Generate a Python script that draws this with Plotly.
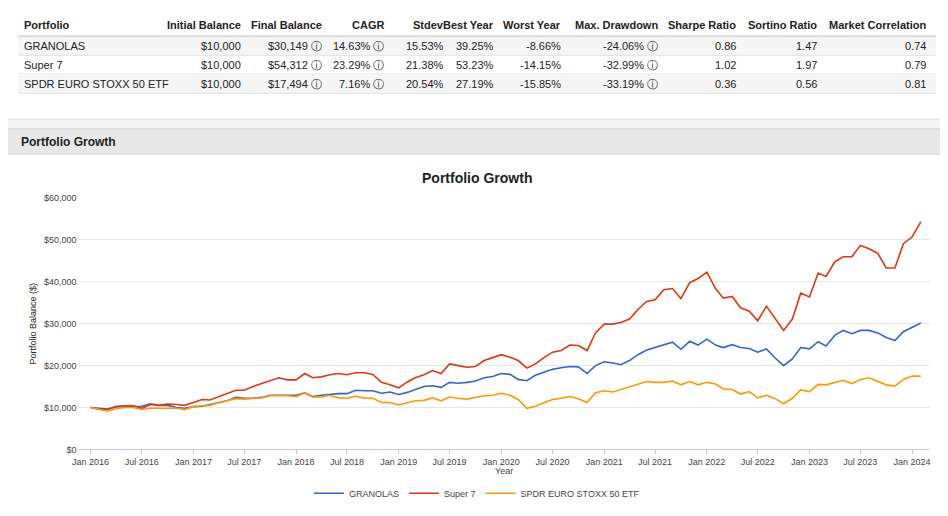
import pandas as pd
import plotly.graph_objects as go

months = pd.date_range('2016-01-01', '2024-02-01', freq='MS')

granolas = [10.0, 9.8, 9.6, 10.1, 10.2, 10.3, 10.3, 10.9, 10.5, 10.5, 10.0, 9.8,
            10.2, 10.3, 10.7, 11.2, 11.6, 12.4, 12.2, 12.2, 12.4, 12.9, 12.9, 12.9,
            12.9, 13.5, 12.6, 12.9, 13.1, 13.3, 13.3, 14.1, 14.0, 14.0, 13.4, 13.7,
            13.1, 13.6, 14.3, 15.0, 15.2, 14.8, 16.0, 15.8, 16.0, 16.3, 17.1, 17.4,
            18.1, 17.9, 16.7, 16.4, 17.7, 18.5, 19.1, 19.5, 19.8, 19.7, 18.1, 20.0,
            20.9, 20.6, 20.2, 21.2, 22.6, 23.7, 24.3, 24.9, 25.6, 23.9, 25.8, 24.9,
            26.3, 24.9, 24.3, 25.0, 24.3, 24.1, 23.2, 24.0, 21.8, 20.0, 21.6, 24.3,
            24.0, 25.7, 24.7, 27.2, 28.4, 27.6, 28.4, 28.4, 27.8, 26.7, 26.0, 28.1,
            29.1, 30.149]
super7 = [10.0, 9.6, 9.5, 10.3, 10.4, 10.4, 9.8, 10.7, 10.5, 10.8, 10.7, 10.5,
          11.2, 11.9, 11.8, 12.6, 13.4, 14.1, 14.1, 15.0, 15.7, 16.4, 17.1, 16.6,
          16.6, 18.1, 17.1, 17.3, 17.8, 18.1, 17.8, 18.3, 18.3, 17.9, 16.0, 15.4,
          14.7, 16.1, 17.1, 17.8, 18.8, 18.1, 20.4, 20.0, 19.6, 19.8, 21.2, 21.9,
          22.6, 22.0, 21.2, 19.4, 20.4, 21.9, 23.2, 23.6, 24.9, 24.8, 23.6, 27.8,
          29.9, 29.9, 30.3, 31.1, 33.4, 35.3, 35.7, 38.1, 38.4, 36.0, 39.8, 40.8,
          42.3, 38.4, 36.1, 36.5, 33.8, 33.0, 30.7, 34.2, 31.1, 28.4, 31.1, 37.3,
          36.4, 42.1, 41.3, 44.8, 46.0, 46.0, 48.7, 47.9, 46.8, 43.3, 43.3, 49.1,
          50.7, 54.312]
stoxx = [10.0, 9.5, 9.1, 9.7, 10.0, 10.0, 9.5, 9.8, 9.8, 9.8, 9.8, 9.5,
         10.2, 10.4, 10.5, 11.2, 11.6, 12.1, 12.0, 12.2, 12.3, 12.8, 12.8, 12.8,
         12.6, 13.5, 12.5, 12.5, 12.9, 12.3, 12.2, 12.7, 12.2, 12.2, 11.2, 11.2,
         10.6, 11.2, 11.6, 11.7, 12.3, 11.6, 12.5, 12.2, 12.0, 12.4, 12.8, 12.9,
         13.4, 12.9, 11.9, 9.8, 10.3, 11.1, 11.9, 12.2, 12.6, 12.1, 11.2, 13.5,
         14.0, 13.7, 14.3, 14.9, 15.5, 16.2, 16.0, 16.0, 16.3, 15.4, 16.2, 15.4,
         16.0, 15.6, 14.4, 14.3, 13.2, 13.8, 12.3, 12.9, 12.1, 10.9, 12.2, 14.2,
         13.8, 15.5, 15.4, 16.0, 16.5, 15.7, 16.7, 17.1, 16.3, 15.4, 15.1, 16.7,
         17.5, 17.494]

headers = ['Portfolio', 'Initial Balance', 'Final Balance', 'CAGR', 'Stdev', 'Best Year',
           'Worst Year', 'Max. Drawdown', 'Sharpe Ratio', 'Sortino Ratio', 'Market Correlation']
rows = [
    ['GRANOLAS', '$10,000', '$30,149 ⓘ', '14.63% ⓘ', '15.53%', '39.25%', '-8.66%', '-24.06% ⓘ', '0.86', '1.47', '0.74'],
    ['Super 7', '$10,000', '$54,312 ⓘ', '23.29% ⓘ', '21.38%', '53.23%', '-14.15%', '-32.99% ⓘ', '1.02', '1.97', '0.79'],
    ['SPDR EURO STOXX 50 ETF', '$10,000', '$17,494 ⓘ', '7.16% ⓘ', '20.54%', '27.19%', '-15.85%', '-33.19% ⓘ', '0.36', '0.56', '0.81'],
]
col_right = [None, 238, 320, 382, 443, 493, 561, 658, 737, 818, 928]

# page has an 8px body margin, so the figure is drawn 8px in from the window edge
W, H = 932, 500
OFF = 8
def px(x):
    return (x - OFF) / W
def py(y):
    return 1 - (y - OFF) / H

fig = go.Figure()
series = [('GRANOLAS', granolas, '#3366cc'), ('Super 7', super7, '#dc3912'),
          ('SPDR EURO STOXX 50 ETF', stoxx, '#ff9900')]
for name, vals, color in series:
    fig.add_trace(go.Scatter(x=months, y=[v * 1000 for v in vals], name=name, mode='lines',
                             line=dict(color=color, width=1.6)))

shapes = [
    dict(type='rect', xref='paper', yref='paper', x0=px(0), x1=px(948), y0=py(516), y1=py(0),
         fillcolor='#f4f4f4', line_width=0, layer='below'),
    dict(type='rect', xref='paper', yref='paper', x0=px(1), x1=px(946), y0=py(117), y1=py(-5),
         fillcolor='white', line=dict(color='#dddddd', width=1), layer='below'),
    dict(type='rect', xref='paper', yref='paper', x0=px(1), x1=px(946), y0=py(520), y1=py(127),
         fillcolor='white', line=dict(color='#dddddd', width=1), layer='below'),
    dict(type='rect', xref='paper', yref='paper', x0=px(1), x1=px(946), y0=py(153), y1=py(127),
         fillcolor='#e8e8e8', line=dict(color='#d6d6d6', width=1), layer='below'),
    dict(type='line', xref='paper', yref='paper', x0=px(12), x1=px(936), y0=py(32), y1=py(32),
         line=dict(color='#cccccc', width=2), layer='below'),
]
for i, ry in enumerate([42, 61, 81]):
    if i != 1:
        shapes.append(dict(type='rect', xref='paper', yref='paper', x0=px(12), x1=px(936),
                           y0=py(ry + 9.5), y1=py(ry - 9.5), fillcolor='#f5f5f5', line_width=0, layer='below'))
    shapes.append(dict(type='line', xref='paper', yref='paper', x0=px(12), x1=px(936),
                       y0=py(ry + 9.5), y1=py(ry + 9.5), line=dict(color='#e4e4e4', width=1), layer='below'))

ann = []
def text(x, y, s, anchor='left', size=11, bold=False, color='#222'):
    ann.append(dict(xref='paper', yref='paper', x=px(x), y=py(y), text=f'<b>{s}</b>' if bold else s,
                    showarrow=False, xanchor=anchor, yanchor='middle',
                    font=dict(size=size, color=color)))

for j, h in enumerate(headers):
    if j == 0:
        text(16, 20, h, bold=True)
    else:
        text(col_right[j], 20, h, anchor='right', bold=True)
for i, r in enumerate(rows):
    ry = [42, 61, 81][i]
    for j, v in enumerate(r):
        if j == 0:
            text(16, ry, v)
        else:
            text(col_right[j], ry, v, anchor='right')
text(13, 140, 'Portfolio Growth', bold=True, size=12)
text(474, 177, 'Portfolio Growth', anchor='center', bold=True, size=14)
text(27, 327, 'Portfolio Balance ($)', anchor='center', size=9)
ann[-1]['textangle'] = -90
text(501, 478, 'Year', anchor='center', size=9, color='#444')

fig.update_layout(
    width=W, height=H, margin=dict(l=0, r=0, t=0, b=0),
    paper_bgcolor='#f4f4f4', plot_bgcolor='white',
    font=dict(family='Liberation Sans, Arial, sans-serif', color='#222', size=11),
    shapes=shapes, annotations=ann,
    xaxis=dict(domain=[px(72), px(930)], range=['2015-11-16', '2024-03-05'],
               tickvals=pd.date_range('2016-01-01', '2024-01-01', freq='6MS'),
               tickformat='%b %Y', tickfont=dict(size=9, color='#444'),
               showgrid=False, showline=True, linecolor='#cccccc',
               ticks='outside', tickcolor='#cccccc', ticklen=4),
    yaxis=dict(domain=[py(456), py(198)], range=[0, 60000], dtick=10000,
               tickprefix='$', tickformat=',', tickfont=dict(size=9, color='#444'),
               gridcolor='#e8e8e8', zeroline=False),
    legend=dict(orientation='h', x=0.5, xanchor='center', y=py(501), yanchor='middle',
                font=dict(size=9, color='#444'), bgcolor='rgba(0,0,0,0)'),
)

fig.write_html('out.html')
